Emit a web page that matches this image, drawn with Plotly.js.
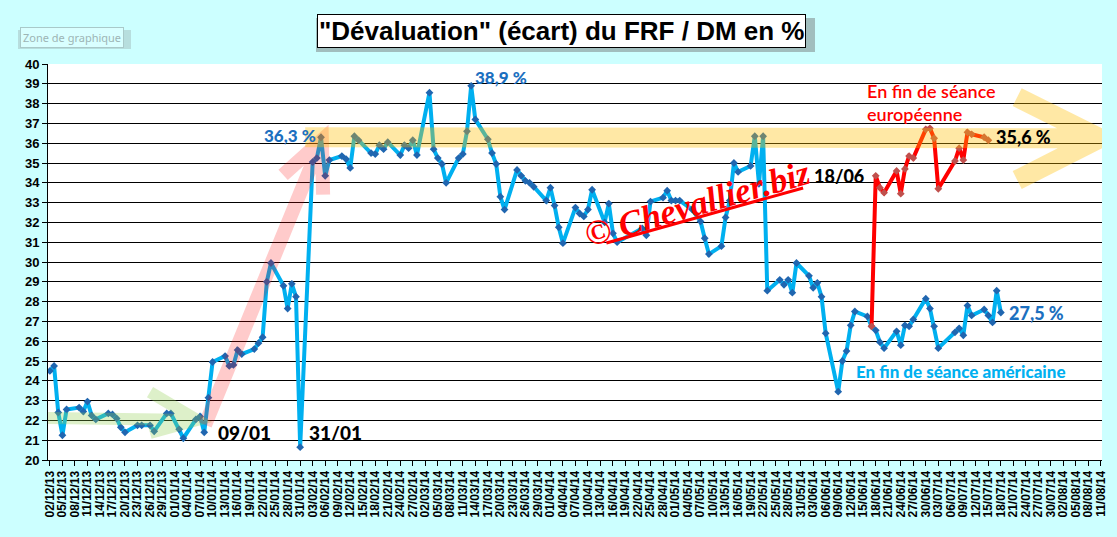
<!DOCTYPE html>
<html>
<head>
<meta charset="utf-8">
<script src="https://cdn.plot.ly/plotly-3.0.1.min.js"></script>
<style>
html,body{margin:0;padding:0;background:#CCFFFF;}
#chart{width:1117px;height:537px;}
</style>
</head>
<body>
<div id="chart"></div>
<script>
// ---- Data: fin de séance américaine (blue) ----
const blueDates = [
'2013-12-02','2013-12-03','2013-12-04','2013-12-05','2013-12-06',
'2013-12-09','2013-12-10','2013-12-11','2013-12-12','2013-12-13',
'2013-12-16','2013-12-17','2013-12-18','2013-12-19','2013-12-20',
'2013-12-23','2013-12-24','2013-12-26','2013-12-27',
'2013-12-30','2013-12-31','2014-01-02','2014-01-03',
'2014-01-06','2014-01-07','2014-01-08','2014-01-09','2014-01-10',
'2014-01-13','2014-01-14','2014-01-15','2014-01-16','2014-01-17',
'2014-01-20','2014-01-21','2014-01-22','2014-01-23','2014-01-24',
'2014-01-27','2014-01-28','2014-01-29','2014-01-30','2014-01-31',
'2014-02-03','2014-02-04','2014-02-05','2014-02-06','2014-02-07',
'2014-02-10','2014-02-11','2014-02-12','2014-02-13','2014-02-14',
'2014-02-17','2014-02-18','2014-02-19','2014-02-20','2014-02-21',
'2014-02-24','2014-02-25','2014-02-26','2014-02-27','2014-02-28',
'2014-03-03','2014-03-04','2014-03-05','2014-03-06','2014-03-07',
'2014-03-10','2014-03-11','2014-03-12','2014-03-13','2014-03-14',
'2014-03-17','2014-03-18','2014-03-19','2014-03-20','2014-03-21',
'2014-03-24','2014-03-25','2014-03-26','2014-03-27','2014-03-28',
'2014-03-31','2014-04-01','2014-04-02','2014-04-03','2014-04-04',
'2014-04-07','2014-04-08','2014-04-09','2014-04-10','2014-04-11',
'2014-04-14','2014-04-15','2014-04-16','2014-04-17',
'2014-04-23','2014-04-24','2014-04-25',
'2014-04-28','2014-04-29','2014-04-30','2014-05-01','2014-05-02',
'2014-05-05','2014-05-07','2014-05-08','2014-05-09',
'2014-05-12','2014-05-13','2014-05-14','2014-05-15','2014-05-16',
'2014-05-19','2014-05-20','2014-05-21','2014-05-22','2014-05-23',
'2014-05-26','2014-05-27','2014-05-28','2014-05-29','2014-05-30',
'2014-06-02','2014-06-03','2014-06-04','2014-06-05','2014-06-06',
'2014-06-09','2014-06-10','2014-06-11','2014-06-12','2014-06-13',
'2014-06-16','2014-06-17','2014-06-18','2014-06-19','2014-06-20',
'2014-06-23','2014-06-24','2014-06-25','2014-06-26','2014-06-27',
'2014-06-30','2014-07-01','2014-07-02','2014-07-03',
'2014-07-07','2014-07-08','2014-07-09','2014-07-10','2014-07-11',
'2014-07-14','2014-07-15','2014-07-16','2014-07-17','2014-07-18'
];
const blueValues = [
24.5,24.75,22.4,21.25,22.55,
22.65,22.45,22.95,22.25,22.05,
22.35,22.3,22.1,21.65,21.4,
21.75,21.75,21.75,21.45,
22.35,22.35,21.55,21.1,
22.05,22.2,21.4,23.15,24.95,
25.25,24.75,24.8,25.55,25.35,
25.6,25.9,26.2,29.0,29.95,
28.8,27.65,28.9,28.25,20.65,
35.05,35.25,36.3,34.35,35.15,
35.35,35.2,34.75,36.35,36.15,
35.5,35.45,35.9,35.7,36.05,
35.4,35.9,35.75,36.15,35.4,
38.55,35.7,35.25,34.95,34.0,
35.25,35.45,36.6,38.9,37.2,
36.2,35.5,34.95,33.3,32.65,
34.65,34.35,34.1,34.0,33.8,
33.1,33.75,32.85,31.75,30.95,
32.75,32.45,32.3,32.65,33.65,
32.0,32.95,31.45,31.0,
31.7,31.35,33.05,
33.25,33.6,33.1,33.1,33.1,
32.65,32.05,31.2,30.4,
30.8,32.25,33.1,35.0,34.55,
34.85,36.35,33.95,36.35,28.55,
29.1,28.85,29.1,28.45,29.95,
29.3,28.7,28.95,28.25,26.4,
23.45,25.0,25.5,26.8,27.5,
27.25,26.75,26.55,25.95,25.65,
26.5,25.8,26.8,26.75,27.1,
28.15,27.65,26.75,25.65,
26.45,26.65,26.3,27.8,27.3,
27.6,27.3,26.95,28.55,27.45
];

// ---- Data: fin de séance européenne (red) ----
const redDates = [
'2014-06-17','2014-06-18','2014-06-19','2014-06-20',
'2014-06-23','2014-06-24','2014-06-25','2014-06-26','2014-06-27',
'2014-06-30','2014-07-01','2014-07-02','2014-07-03',
'2014-07-07','2014-07-08','2014-07-09','2014-07-10','2014-07-11',
'2014-07-14','2014-07-15'
];
const redValues = [
26.75,34.35,33.75,33.5,
34.6,33.45,34.7,35.35,35.25,
36.7,36.75,36.25,33.7,
35.1,35.75,35.15,36.55,36.45,
36.3,36.15
];

const yTicks = [20,21,22,23,24,25,26,27,28,29,30,31,32,33,34,35,36,37,38,39,40];

const traces = [
  {
    x: blueDates, y: blueValues, type: 'scatter', mode: 'lines+markers',
    line: {color: '#00B0F0', width: 4},
    marker: {symbol: 'diamond', size: 6, color: '#2066B0'},
    hoverinfo: 'skip', showlegend: false
  },
  {
    x: redDates, y: redValues, type: 'scatter', mode: 'lines+markers',
    line: {color: '#FF0000', width: 4},
    marker: {symbol: 'diamond', size: 6, color: '#C0504D'},
    hoverinfo: 'skip', showlegend: false
  }
];

const lbl = (t, x, y, color, size, xanchor, weight) => ({
  text: t,
  x: x, y: y, xref: 'x', yref: 'y', showarrow: false,
  xanchor: xanchor, yanchor: 'middle',
  font: {family: 'Lato, Liberation Sans, sans-serif', size: size, color: color, weight: weight || 900}
});

const layout = {
  width: 1117, height: 537,
  paper_bgcolor: '#CCFFFF', plot_bgcolor: '#FFFFFF',
  margin: {l: 48, r: 15, t: 64, b: 77},
  showlegend: false,
  xaxis: {
    type: 'date',
    range: ['2013-12-01 13:00', '2014-08-11 06:00'],
    tick0: '2013-12-02', dtick: 3 * 86400000,
    tickformat: '%d/%m/%y', tickangle: -90,
    tickfont: {family: 'Liberation Sans, Arial', size: 12, color: '#000', weight: 'bold'},
    ticks: 'outside', ticklen: 5, tickcolor: '#000', tickwidth: 1,
    showline: true, linecolor: '#000', linewidth: 1,
    showgrid: false, zeroline: false, fixedrange: true
  },
  yaxis: {
    range: [20, 40], tickvals: yTicks, ticktext: yTicks.map(String),
    tickfont: {family: 'Liberation Sans, Arial', size: 13, color: '#000', weight: 'bold'},
    ticks: 'outside', ticklen: 5, tickcolor: '#000',
    showline: true, linecolor: '#000', linewidth: 1,
    showgrid: true, gridcolor: '#000', gridwidth: 1,
    zeroline: false, fixedrange: true
  },
  shapes: [
    // title shadow
    {type: 'rect', xref: 'paper', yref: 'paper', layer: 'below',
     x0: (316 - 48) / 1054, x1: (815 - 48) / 1054,
     y0: (460 - 52) / 396, y1: (460 - 18) / 396,
     fillcolor: '#8FA3A3', line: {width: 0}, opacity: 0.7},
    // chart-zone tooltip shadow
    {type: 'rect', xref: 'paper', yref: 'paper', layer: 'below',
     x0: (18 - 48) / 1054, x1: (131 - 48) / 1054,
     y0: (460 - 49) / 396, y1: (460 - 30) / 396,
     fillcolor: '#A8C8C8', line: {width: 0}, opacity: 0.6},
    // green arrow
    {type: 'path', xref: 'x', yref: 'y', layer: 'above', opacity: 0.3,
     path: 'M 2013-12-01_13:00,22.12 L 2014-01-06_07:00,22.02 M 2013-12-26,23.43 L 2014-01-06_07:00,22.02 L 2013-12-26,21.36',
     line: {color: '#92D050', width: 12}},
    // pink arrow
    {type: 'path', xref: 'x', yref: 'y', layer: 'above', opacity: 0.2,
     path: 'M 2014-01-08_05:00,21.77 L 2014-02-05_05:00,36.16 M 2014-01-26_22:00,34.4 L 2014-02-05_05:00,36.16 L 2014-02-05_12:00,33.4',
     line: {color: '#FF0000', width: 14}},
    // yellow arrow
    {type: 'path', xref: 'x', yref: 'y', layer: 'above', opacity: 0.35,
     path: 'M 2014-02-01_05:00,36.3 L 2014-08-10_16:00,36.25 M 2014-07-21_22:00,38.33 L 2014-08-10_16:00,36.25 L 2014-07-21_22:00,34.14',
     line: {color: '#FFC000', width: 20}},
    // watermark underline
    {type: 'line', xref: 'x', yref: 'y', layer: 'above',
     x0: '2014-04-14 10:00', y0: 30.96, x1: '2014-05-31 14:00', y1: 33.74,
     line: {color: '#FF0000', width: 3}}
  ],
  annotations: [
    {text: '<b>"Dévaluation" (écart) du FRF / DM en %</b>',
     xref: 'paper', yref: 'paper', x: (561 - 48) / 1054, y: (460 - 31) / 396,
     xanchor: 'center', yanchor: 'middle', showarrow: false,
     font: {family: 'Liberation Sans, Arial', size: 26, color: '#000'},
     bgcolor: '#FFFFFF', bordercolor: '#000', borderwidth: 1, borderpad: 1},
    {text: 'Zone de graphique',
     xref: 'paper', yref: 'paper', x: (72 - 48) / 1054, y: (460 - 37) / 396,
     xanchor: 'center', yanchor: 'middle', showarrow: false,
     font: {family: 'Noto Sans, sans-serif', size: 11, color: '#9DB5B5'},
     bgcolor: '#D9FFFF', bordercolor: '#A9C9C9', borderwidth: 1, borderpad: 2},
    lbl('36,3 %', '2014-02-04 07:00', 36.41, '#1C70C0', 17, 'right'),
    lbl('38,9 %', '2014-03-13 12:00', 39.33, '#1C70C0', 17, 'left'),
    lbl('09/01', '2014-01-10 19:00', 21.41, '#000', 19, 'left'),
    lbl('31/01', '2014-02-01 16:00', 21.41, '#000', 19, 'left'),
    lbl('18/06', '2014-06-15 18:00', 34.34, '#000', 18, 'right'),
    lbl('35,6 %', '2014-07-16 10:00', 36.33, '#000', 18, 'left'),
    lbl('27,5 %', '2014-07-19 12:00', 27.44, '#1C70C0', 18, 'left'),
    lbl('En fin de séance', '2014-06-15 12:00', 38.64, '#FF0000', 18, 'left', 600),
    lbl('européenne', '2014-06-15 12:00', 37.47, '#FF0000', 18, 'left', 600),
    lbl('En fin de séance américaine', '2014-06-12 20:00', 24.46, '#00B0F0', 17, 'left'),
    {text: '<i><b>© Chevallier.biz</b></i>',
     x: '2014-05-06 08:00', y: 32.95, xref: 'x', yref: 'y', showarrow: false,
     xanchor: 'center', yanchor: 'middle', textangle: -16,
     font: {family: 'Liberation Serif, DejaVu Serif, serif', size: 35, color: '#FF0000'}}
  ]
};

Plotly.newPlot('chart', traces, layout, {displayModeBar: false, staticPlot: true});
</script>
</body>
</html>
